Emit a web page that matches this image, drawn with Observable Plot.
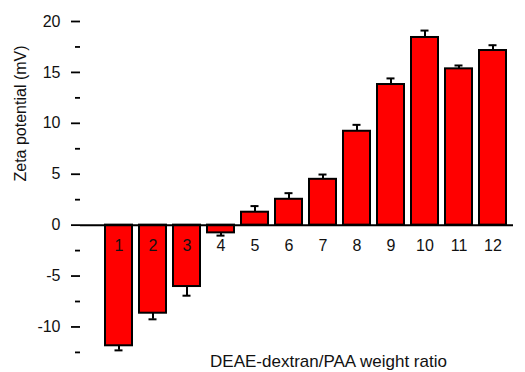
<!DOCTYPE html>
<html>
<head>
<meta charset="utf-8">
<script src="https://cdn.jsdelivr.net/npm/d3@7"></script>
<script src="https://cdn.jsdelivr.net/npm/@observablehq/plot@0.6"></script>
<style>
  html, body { margin: 0; padding: 0; background: #fff; }
</style>
</head>
<body>
<div id="chart"></div>
<script>
const categories = ["1", "2", "3", "4", "5", "6", "7", "8", "9", "10", "11", "12"];
const values = [-11.85, -8.65, -6.03, -0.76, 1.27, 2.54, 4.5, 9.22, 13.81, 18.43, 15.35, 17.15];
const errors = [0.45, 0.6, 0.9, 0.27, 0.6, 0.6, 0.47, 0.63, 0.6, 0.68, 0.33, 0.52];
const majorTicks = [-10, -5, 0, 5, 10, 15, 20];
const minorTicks = [-12.5, -7.5, -2.5, 2.5, 7.5, 12.5, 17.5];
const xTitle = "DEAE-dextran/PAA weight ratio";
const yTitle = "Zeta potential (mV)";

const data = categories.map((k, i) => ({
  k, v: values[i], e: errors[i],
  end: values[i] + Math.sign(values[i]) * errors[i]
}));

const ink = "#111";

const chart = Plot.plot({
  width: 525,
  height: 372,
  marginLeft: 80,
  marginRight: 12,
  marginTop: 21,
  marginBottom: 15,
  style: { fontFamily: "'Liberation Sans', Arial, sans-serif", fontSize: "16px", color: ink, background: "#fff" },
  x: { type: "band", domain: categories, range: [93, 518], padding: 0.2, axis: null },
  y: { domain: [-13, 20], range: [357, 21], axis: null },
  marks: [
    Plot.barY(data, { x: "k", y1: 0, y2: "v", fill: "#ff0000", stroke: "#000", strokeWidth: 2 }),
    Plot.ruleX(data, { x: "k", y1: "v", y2: "end", stroke: "#000", strokeWidth: 2 }),
    Plot.tickY(data, { x: "k", y: "end", insetLeft: 9.5, insetRight: 9.5, stroke: "#000", strokeWidth: 2 }),
    Plot.ruleY([0], { stroke: "#000", strokeWidth: 2 }),
    Plot.text(data, { x: "k", y: -2.55, text: "k", lineAnchor: "bottom", fill: ink, fontSize: 16 }),
    Plot.axisY({ ticks: minorTicks, tickSize: 5, tickFormat: null, text: null, stroke: "#000", strokeWidth: 1.8, label: null }),
    Plot.axisY({ ticks: majorTicks, tickSize: 9, tickPadding: 11, line: true, stroke: "#000", strokeWidth: 1.8, fill: ink, fontSize: 16, label: null, tickFormat: d => String(d) }),
    Plot.text([yTitle], { frameAnchor: "left", dx: -60, dy: -8, rotate: -90, fill: ink, fontSize: 16 }),
    Plot.text([xTitle], { frameAnchor: "bottom", dx: 31.5, dy: 9, lineAnchor: "bottom", fill: ink, fontSize: 17 })
  ]
});
document.getElementById("chart").appendChild(chart);
</script>
</body>
</html>
